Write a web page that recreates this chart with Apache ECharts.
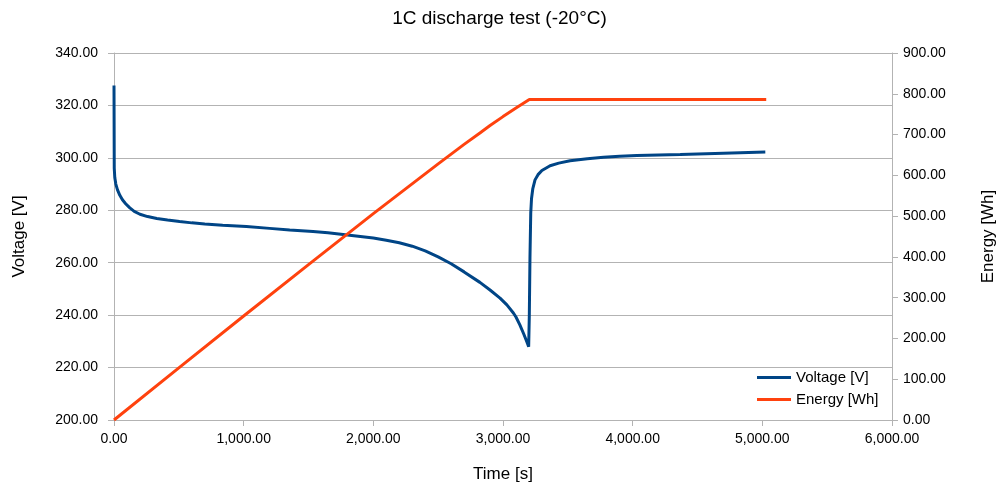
<!DOCTYPE html>
<html>
<head>
<meta charset="utf-8">
<title>1C discharge test (-20°C)</title>
<script src="https://cdn.jsdelivr.net/npm/echarts@6/dist/echarts.min.js"></script>
<style>
  html, body { margin: 0; padding: 0; background: #fff; }
  #chart { width: 999px; height: 487px; }
</style>
</head>
<body>
<div id="chart"></div>
<script>
// voltage readings (time in s, voltage in V)
var voltageTime = [0, 2, 6, 14, 27, 45, 65, 90, 120, 156, 200, 259, 330, 413, 506, 600, 700, 838,
  1021, 1200, 1355, 1535, 1650, 1800, 1900, 2000, 2100, 2200, 2300, 2400, 2500, 2600, 2700,
  2822, 2900, 2977, 3030, 3080, 3100, 3130, 3160, 3180, 3198, 3203, 3208, 3214, 3220, 3230,
  3247, 3270, 3300, 3363, 3430, 3517, 3650, 3775, 3900, 4032, 4367, 4700, 5023];
var voltage = [327.6, 296, 292.5, 290, 287.8, 285.7, 284, 282.5, 281, 279.6, 278.5, 277.6, 276.9,
  276.3, 275.7, 275.2, 274.8, 274.3, 273.8, 273.1, 272.5, 271.9, 271.4, 270.6, 270.0, 269.4,
  268.6, 267.6, 266.3, 264.5, 262.2, 259.6, 256.5, 252.5, 249.6, 246.5, 243.9, 240.8, 239.3,
  236.3, 232.8, 230.3, 228.0, 240, 262, 279, 284.5, 288.3, 291.6, 293.6, 295.2, 297.0, 298.0,
  298.9, 299.7, 300.2, 300.6, 300.9, 301.3, 301.8, 302.2];

// energy readings (time in s, energy in Wh)
var energyTime = [0, 500, 1000, 1500, 2000, 2500, 2700, 2822, 2900, 3000, 3100, 3203, 5030];
var energy = [0, 128, 255, 381, 506, 628, 676, 704, 722, 744, 765, 786, 786];

var timeTicks = { min: 0, max: 6000, interval: 1000 };
var voltTicks = { min: 200, max: 340, interval: 20 };
var energyTicks = { min: 0, max: 900, interval: 100 };

function zip(xs, ys) {
  return xs.map(function (x, i) { return [x, ys[i]]; });
}
function fmt(v) {
  return v.toLocaleString('en-US', { minimumFractionDigits: 2, maximumFractionDigits: 2 });
}

var font = 'Liberation Sans, Arial, sans-serif';
var gray = '#b3b3b3';

var chart = echarts.init(document.getElementById('chart'));
chart.setOption({
  animation: false,
  textStyle: { fontFamily: font, color: '#000' },
  title: {
    text: '1C discharge test (-20°C)',
    left: 'center',
    top: 4,
    textStyle: { fontFamily: font, fontSize: 19, fontWeight: 'normal', color: '#000' }
  },
  legend: {
    orient: 'vertical',
    left: 752,
    top: 365,
    itemGap: 7,
    itemWidth: 34,
    itemHeight: 3,
    icon: 'rect',
    textStyle: { fontFamily: font, fontSize: 15, color: '#000', lineHeight: 15 },
    data: ['Voltage [V]', 'Energy [Wh]']
  },
  grid: { left: 114, right: 107, top: 53, bottom: 67, outerBoundsMode: 'none', containLabel: false },
  xAxis: {
    type: 'value',
    min: timeTicks.min,
    max: timeTicks.max,
    interval: timeTicks.interval,
    name: 'Time [s]',
    nameLocation: 'middle',
    nameGap: 46,
    nameTextStyle: { fontFamily: font, fontSize: 17, color: '#000' },
    axisLine: { show: true, lineStyle: { color: gray } },
    axisTick: { show: true, length: 6, lineStyle: { color: gray } },
    axisLabel: { margin: 12, fontSize: 14, color: '#000', formatter: fmt },
    splitLine: { show: false }
  },
  yAxis: [
    {
      type: 'value',
      min: voltTicks.min,
      max: voltTicks.max,
      interval: voltTicks.interval,
      name: 'Voltage [V]',
      nameLocation: 'middle',
      nameGap: 86,
      nameTextStyle: { fontFamily: font, fontSize: 17, color: '#000' },
      axisLine: { show: true, lineStyle: { color: gray } },
      axisTick: { show: true, length: 6, lineStyle: { color: gray } },
      axisLabel: { margin: 16, fontSize: 14, color: '#000', formatter: fmt },
      splitLine: { show: true, lineStyle: { color: gray } }
    },
    {
      type: 'value',
      position: 'right',
      min: energyTicks.min,
      max: energyTicks.max,
      interval: energyTicks.interval,
      name: 'Energy [Wh]',
      nameLocation: 'middle',
      nameGap: 88,
      nameRotate: 90,
      nameTextStyle: { fontFamily: font, fontSize: 17, color: '#000' },
      axisLine: { show: true, lineStyle: { color: gray } },
      axisTick: { show: true, length: 6, lineStyle: { color: gray } },
      axisLabel: { margin: 11, fontSize: 14, color: '#000', formatter: fmt },
      splitLine: { show: false }
    }
  ],
  series: [
    {
      name: 'Voltage [V]',
      type: 'line',
      yAxisIndex: 0,
      showSymbol: false,
      data: zip(voltageTime, voltage),
      lineStyle: { color: '#004586', width: 3 },
      itemStyle: { color: '#004586' }
    },
    {
      name: 'Energy [Wh]',
      type: 'line',
      yAxisIndex: 1,
      showSymbol: false,
      data: zip(energyTime, energy),
      lineStyle: { color: '#ff420e', width: 3 },
      itemStyle: { color: '#ff420e' }
    }
  ]
});
</script>
</body>
</html>
